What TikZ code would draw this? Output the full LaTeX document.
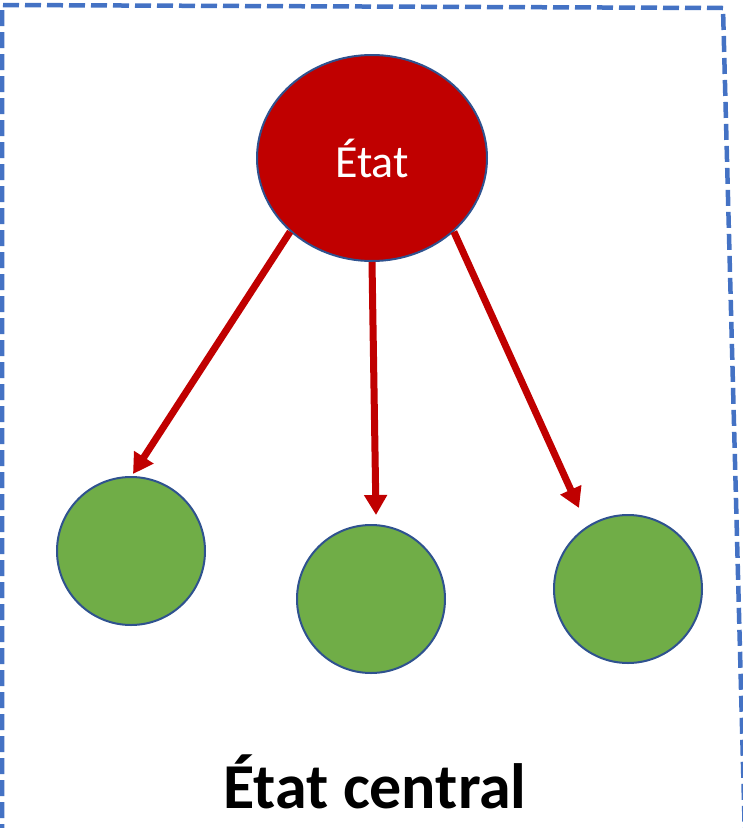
\documentclass[tikz,border=0pt]{standalone}
\usepackage{fontspec}
\setmainfont{Carlito}
\usetikzlibrary{shapes.geometric,arrows.meta}
\definecolor{darkred}{HTML}{C00000}
\definecolor{leafgreen}{HTML}{70AD47}
\definecolor{edgeblue}{HTML}{2F528F}
\definecolor{frameblue}{HTML}{4472C4}
\tikzset{
  leaf/.style={circle,fill=leafgreen,draw=edgeblue,line width=2pt,minimum size=148pt,inner sep=0pt},
  link/.style={draw=darkred,line width=7pt,-{Triangle[length=20pt,width=22pt]}},
  frame/.style={draw=frameblue,line width=4.5pt,dash pattern=on 16pt off 6pt}
}
\begin{document}
\begin{tikzpicture}[x=1pt,y=-1pt]
\useasboundingbox (0,0) rectangle (743,828);
\fill[white] (0,0) rectangle (743,828);
\draw[frame] (2,840) -- (2,5) -- (723,8) -- (745,840);
\node[ellipse,fill=darkred,draw=edgeblue,line width=2pt,minimum width=230pt,minimum height=206pt,inner sep=0pt,text=white,font=\fontsize{46}{54}\selectfont] (etat) at (372,158) {État};
\node[leaf] (c1) at (131,551) {};
\node[leaf] (c2) at (371,599) {};
\node[leaf] (c3) at (628,589) {};
\coordinate (t1) at (133,474);
\coordinate (t2) at (376,515);
\coordinate (t3) at (579,508);
\draw[link] (etat.222) -- (t1);
\draw[link] (etat.270) -- (t2);
\draw[link] (etat.318) -- (t3);
\node[anchor=base,inner sep=0pt,font=\bfseries\fontsize{64}{70}\selectfont] (title) at (375,808) {État central};
\end{tikzpicture}
\end{document}
